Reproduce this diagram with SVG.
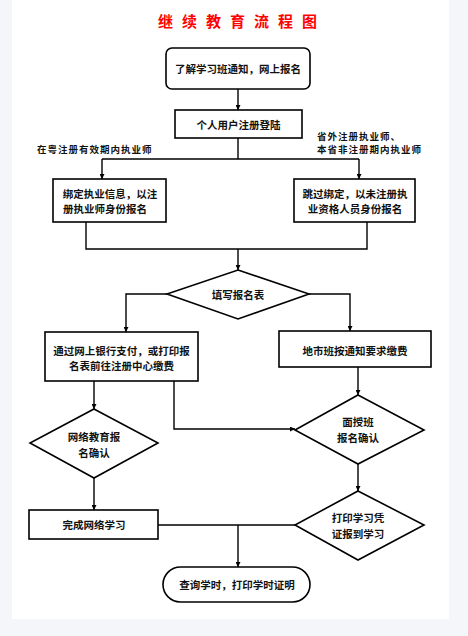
<svg xmlns="http://www.w3.org/2000/svg" width="468" height="636" viewBox="0 0 468 636">
<defs>
<marker id="arr" viewBox="0 0 10 10" refX="10" refY="5" markerWidth="5" markerHeight="5" orient="auto" markerUnits="userSpaceOnUse">
<path d="M0,0 L10,5 L0,10 z" fill="#000"/>
</marker>
<style>
.bg{fill:#f4f6f9}
.panel{fill:#fff}
.shape{fill:#fff;stroke:#000;stroke-width:1.6}
.ln{fill:none;stroke:#000;stroke-width:1.4}
.t{font-family:"Noto Sans CJK SC","Noto Sans CJK JP",sans-serif;font-size:10.5px;font-weight:bold;fill:#111;text-anchor:middle;dominant-baseline:central}
.lbl{font-family:"Noto Sans CJK SC","Noto Sans CJK JP",sans-serif;font-size:9.5px;font-weight:bold;letter-spacing:1px;fill:#111;dominant-baseline:central}
.title{font-family:"Noto Sans CJK SC","Noto Sans CJK JP",sans-serif;font-size:15px;font-weight:bold;fill:#f00;text-anchor:middle;letter-spacing:9px}
</style>
</defs>
<rect class="bg" x="0" y="0" width="468" height="636"/>
<rect class="panel" x="12" y="0" width="437" height="619"/>
<text class="title" x="242" y="27">继续教育流程图</text>

<g id="connectors">
<path class="ln" d="M238,89 V110" marker-end="url(#arr)"/>
<path class="ln" d="M238,138 V159 M102,159 H359"/>
<path class="ln" d="M102,159 V179" marker-end="url(#arr)"/>
<path class="ln" d="M359,159 V179" marker-end="url(#arr)"/>
<path class="ln" d="M86,222 V249 H367 V222"/>
<path class="ln" d="M238,249 V270" marker-end="url(#arr)"/>
<path class="ln" d="M167,294 H126 V332" marker-end="url(#arr)"/>
<path class="ln" d="M309,294 H350 V331" marker-end="url(#arr)"/>
<path class="ln" d="M94,381 V409" marker-end="url(#arr)"/>
<path class="ln" d="M174,381 V429 H295" marker-end="url(#arr)"/>
<path class="ln" d="M358,367 V395" marker-end="url(#arr)"/>
<path class="ln" d="M358,464 V491" marker-end="url(#arr)"/>
<path class="ln" d="M94,478 V510" marker-end="url(#arr)"/>
<path class="ln" d="M158,525 H295"/>
<path class="ln" d="M238,525 V567" marker-end="url(#arr)"/>
</g>

<g id="n1"><rect class="shape" x="166" y="48" width="144" height="41" rx="6"/><text class="t" x="238" y="68.5">了解学习班通知，网上报名</text></g>
<g id="n2"><rect class="shape" x="175" y="110" width="127" height="28"/><text class="t" x="238.5" y="124">个人用户注册登陆</text></g>
<g id="lblL"><text class="lbl" x="37" y="149">在粤注册有效期内执业师</text></g>
<g id="lblR"><text class="lbl" x="317" y="136">省外注册执业师、</text><text class="lbl" x="317" y="149">本省非注册期内执业师</text></g>
<g id="n3"><rect class="shape" x="53" y="179" width="113" height="43"/><text class="t" x="110" y="193">绑定执业信息，以注</text><text class="t" x="105" y="208">册执业师身份报名</text></g>
<g id="n4"><rect class="shape" x="294" y="179" width="121" height="43"/><text class="t" x="355" y="193">跳过绑定，以未注册执</text><text class="t" x="355" y="208">业资格人员身份报名</text></g>
<g id="d1"><polygon class="shape" points="238,270 309,294 238,319 167,294"/><text class="t" x="238" y="294">填写报名表</text></g>
<g id="n5"><rect class="shape" x="45" y="332" width="153" height="49"/><text class="t" x="121.5" y="350">通过网上银行支付，或打印报</text><text class="t" x="121.5" y="365">名表前往注册中心缴费</text></g>
<g id="n6"><rect class="shape" x="279" y="331" width="152" height="36"/><text class="t" x="355" y="350">地市班按通知要求缴费</text></g>
<g id="d2"><polygon class="shape" points="94,409 158,443 94,478 30,443"/><text class="t" x="94" y="436">网络教育报</text><text class="t" x="94" y="452">名确认</text></g>
<g id="d3"><polygon class="shape" points="358,395 424,430 358,464 295,430"/><text class="t" x="358" y="421">面授班</text><text class="t" x="358" y="437">报名确认</text></g>
<g id="d4"><polygon class="shape" points="358,491 424,525 358,560 295,525"/><text class="t" x="358" y="517">打印学习凭</text><text class="t" x="358" y="533">证报到学习</text></g>
<g id="n7"><rect class="shape" x="29" y="510" width="129" height="29"/><text class="t" x="94" y="524.5">完成网络学习</text></g>
<g id="n8"><rect class="shape" x="163" y="567" width="147" height="35" rx="17.5"/><text class="t" x="237" y="584.5">查询学时，打印学时证明</text></g>
</svg>
